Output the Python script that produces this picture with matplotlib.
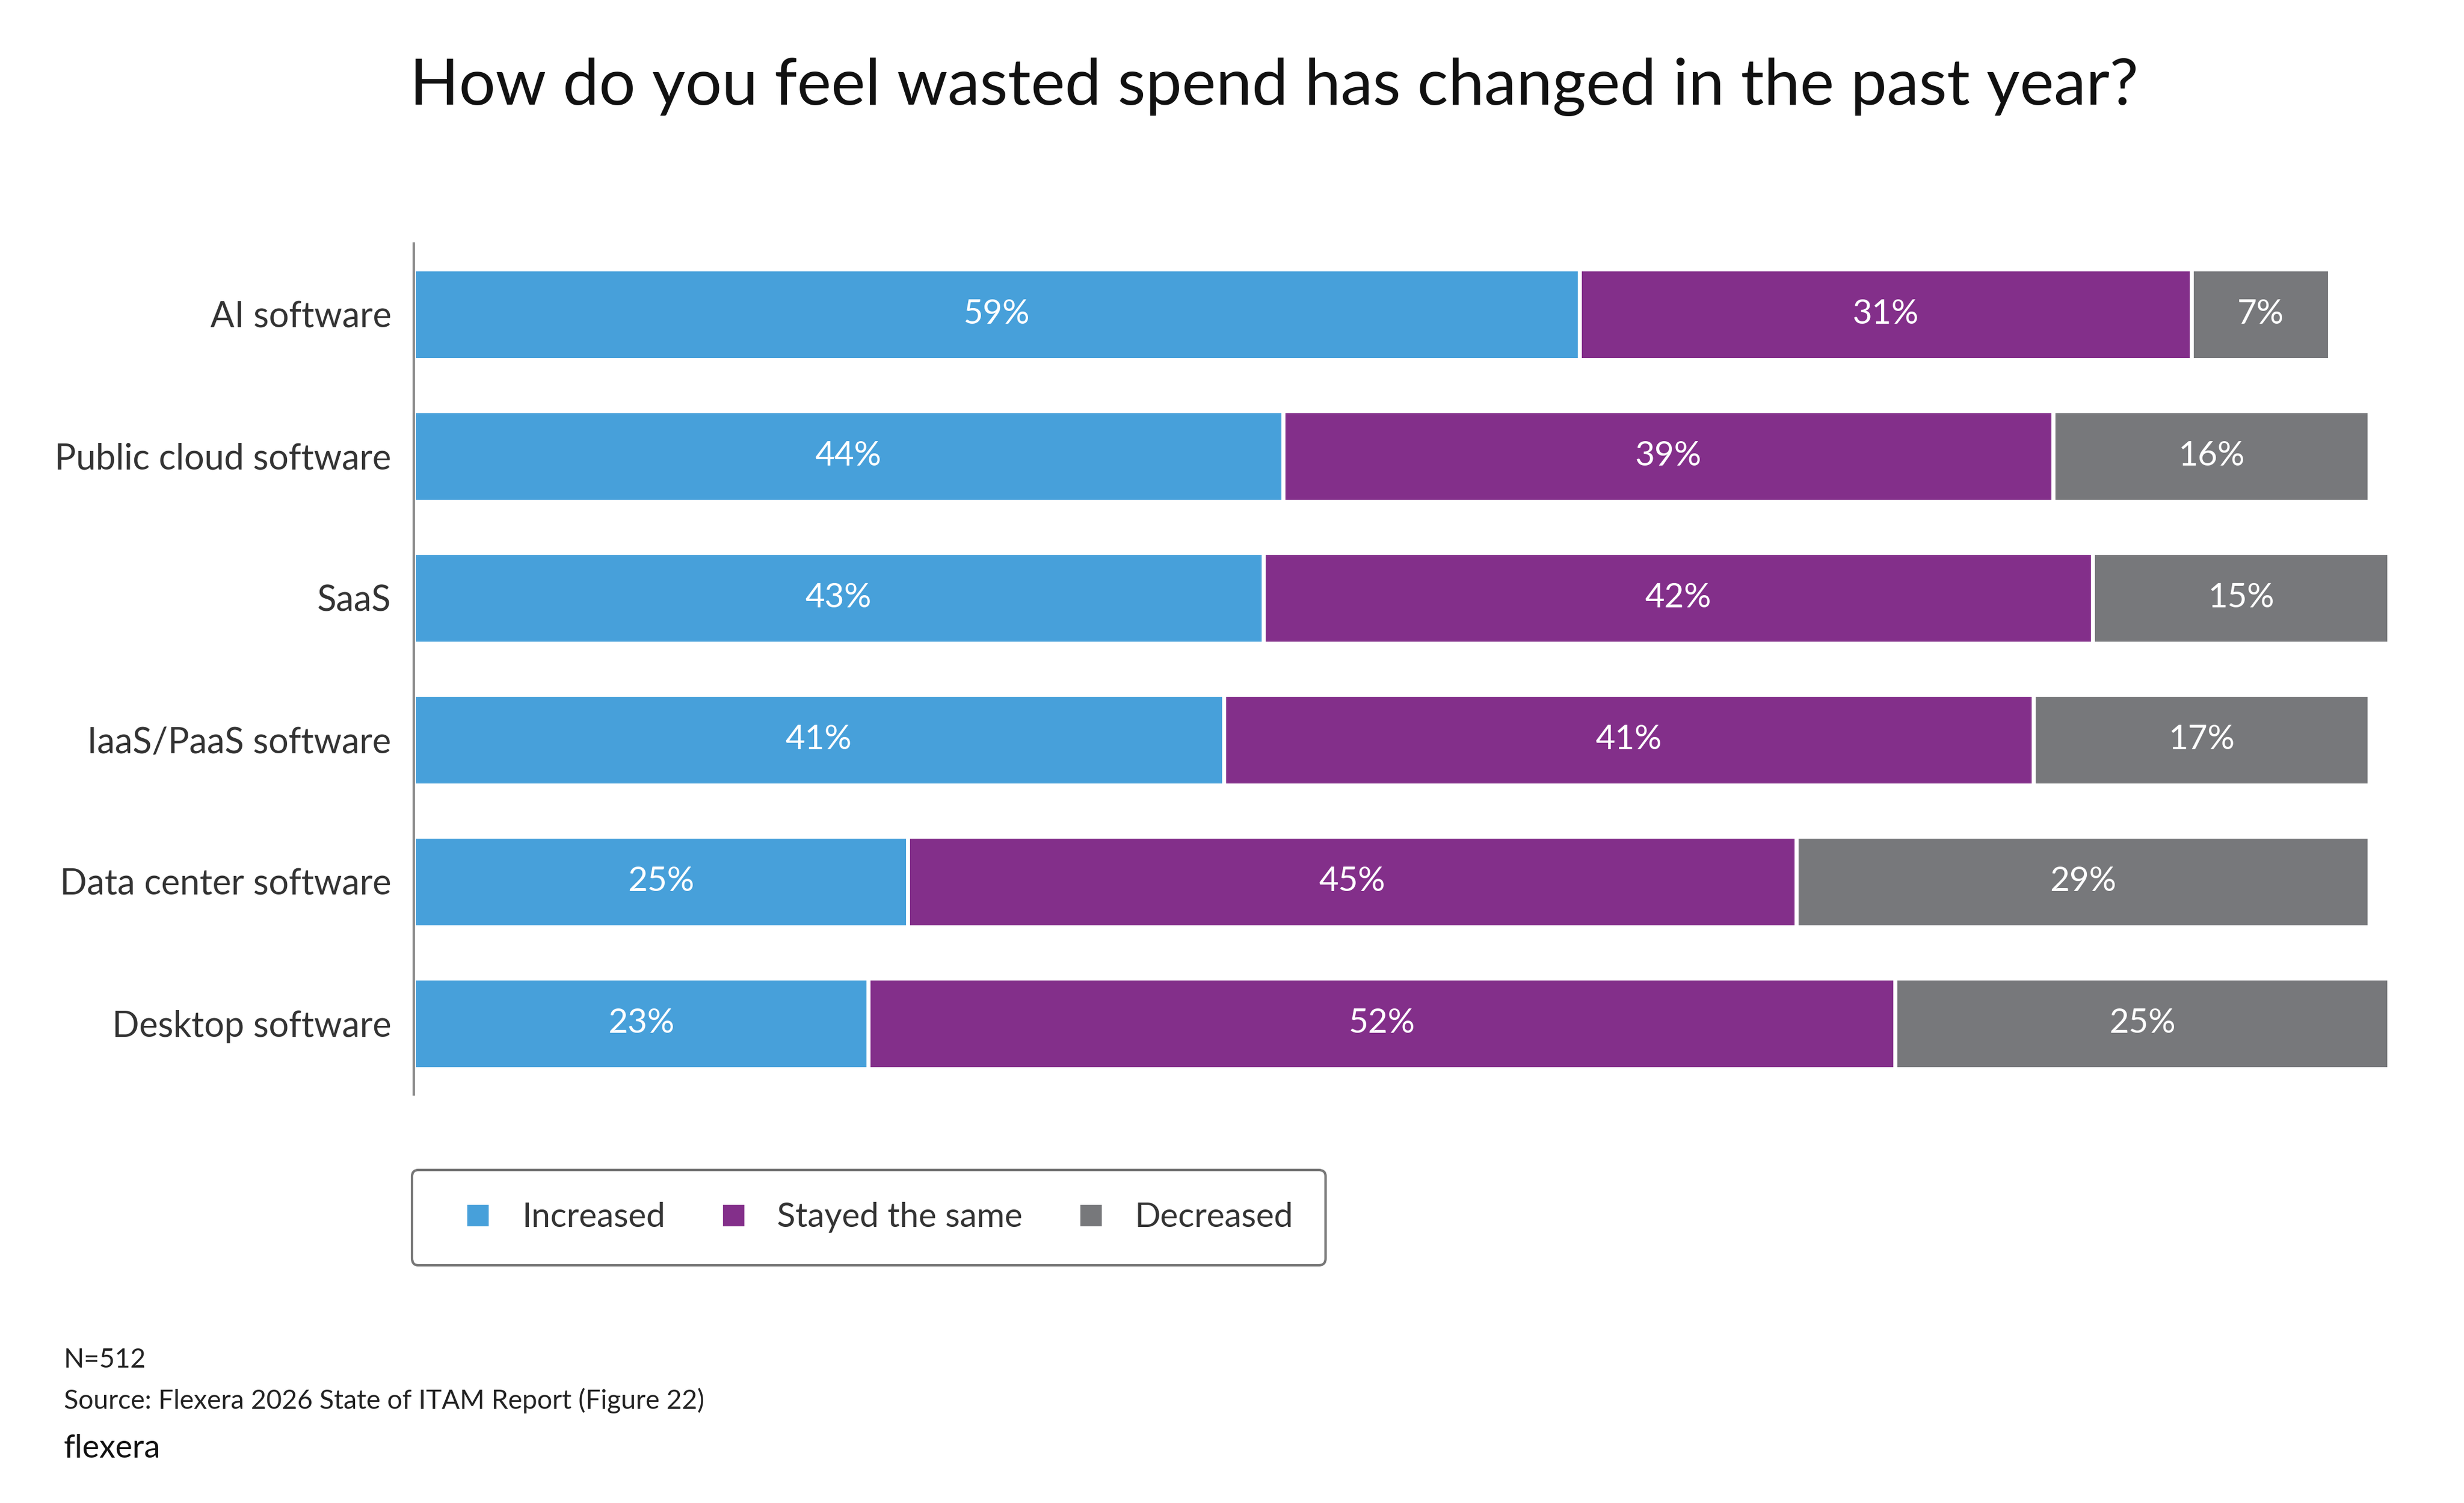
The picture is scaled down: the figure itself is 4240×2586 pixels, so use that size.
import numpy as np
import matplotlib.pyplot as plt

plt.rcParams['font.family'] = ['Lato', 'DejaVu Sans']

categories = ['AI software', 'Public cloud software', 'SaaS', 'IaaS/PaaS software',
              'Data center software', 'Desktop software']
increased = [59, 44, 43, 41, 25, 23]
same = [31, 39, 42, 41, 45, 52]
decreased = [7, 16, 15, 17, 29, 25]
series = ['Increased', 'Stayed the same', 'Decreased']
colors = ['#47A0DA', '#832F8A', '#77787B']

fig = plt.figure(figsize=(21.2, 12.93), dpi=200)
ax = fig.add_axes([0.168, 0.272, 0.812, 0.566])

y = np.arange(len(categories))
left = np.zeros(len(categories))
for vals, col, name in zip([increased, same, decreased], colors, series):
    vals = np.array(vals)
    ax.barh(y, vals, left=left, height=0.64, color=col, edgecolor='white',
            linewidth=2.5, label=name)
    for yi, l, v in zip(y, left, vals):
        ax.text(l + v / 2, yi, f'{v}%', ha='center', va='center',
                color='white', fontsize=21)
    left += vals

ax.set_ylim(len(categories) - 0.5, -0.5)
ax.set_xlim(0, 101.3)
ax.set_yticks(y)
ax.set_yticklabels(categories, fontsize=22, color='#333333')
ax.tick_params(axis='y', length=0, pad=14)
ax.set_xticks([])
for s in ['top', 'right', 'bottom']:
    ax.spines[s].set_visible(False)
ax.spines['left'].set_color('#888888')
ax.spines['left'].set_linewidth(1.5)

fig.text(0.517, 0.942, 'How do you feel wasted spend has changed in the past year?',
         ha='center', va='center', fontsize=40, color='#111111')

handles = [plt.Line2D([], [], marker='s', ls='', color=c, markersize=12) for c in colors]
leg = fig.legend(handles, series, loc='center left', bbox_to_anchor=(0.163, 0.19),
                 ncol=3, fontsize=21, frameon=True, handletextpad=0.3,
                 columnspacing=1.0, borderpad=0.75, labelcolor='#333333')
leg.get_frame().set_edgecolor('#555555')
leg.get_frame().set_linewidth(1.5)
leg.get_frame().set_boxstyle('round,pad=0.2,rounding_size=0.2')

fig.text(0.026, 0.095, 'N=512', fontsize=16.5, color='#222222', va='center')
fig.text(0.026, 0.068, 'Source: Flexera 2026 State of ITAM Report (Figure 22)',
         fontsize=16.5, color='#222222', va='center')
fig.text(0.026, 0.036, 'flexera', fontsize=20, color='#111111', va='center')

fig.savefig('out.png', dpi=200, facecolor='white')
